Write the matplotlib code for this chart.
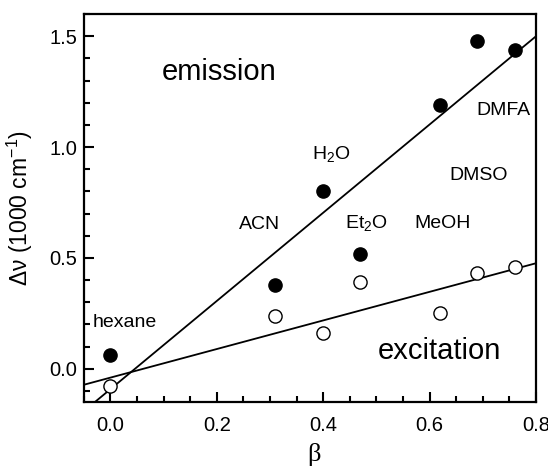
import matplotlib
matplotlib.use("Agg")
import matplotlib.pyplot as plt
import numpy as np
from matplotlib.ticker import MultipleLocator

plt.rcParams['font.family'] = ['Liberation Sans', 'DejaVu Sans']
plt.rcParams['mathtext.fontset'] = 'custom'
plt.rcParams['mathtext.rm'] = 'Liberation Sans'
plt.rcParams['mathtext.it'] = 'Liberation Sans'

# solvent basicity beta
beta = [0.0, 0.31, 0.40, 0.47, 0.62, 0.69, 0.76]
# Stokes shifts, 1000 cm-1
emission = [0.06, 0.38, 0.80, 0.52, 1.19, 1.48, 1.44]
excitation = [-0.08, 0.24, 0.16, 0.39, 0.25, 0.43, 0.46]

# linear fits: slope, intercept
fit_em = [1.99, -0.092]
fit_ex = [0.645, -0.040]

solvents = ['hexane', 'ACN', 'H$_2$O', 'Et$_2$O', 'MeOH', 'DMSO', 'DMFA']
label_x = [0.026, 0.281, 0.415, 0.482, 0.625, 0.692, 0.739]
label_y = [0.207, 0.649, 0.97, 0.656, 0.656, 0.87, 1.167]

fig = plt.figure(figsize=(5.48, 4.71), dpi=100)
ax = fig.add_axes([0.153, 0.1465, 0.825, 0.8235])

xx = np.array([-0.05, 0.8])
ax.plot(xx, fit_em[0] * xx + fit_em[1], color='black', lw=1.3)
ax.plot(xx, fit_ex[0] * xx + fit_ex[1], color='black', lw=1.3)

ax.plot(beta, emission, 'o', color='black', ms=9.5)
ax.plot(beta, excitation, 'o', mfc='white', mec='black', mew=1.0, ms=9.5)

for s, x, y in zip(solvents, label_x, label_y):
    ax.text(x, y, s, fontsize=14, ha='center', va='center')

ax.text(0.204, 1.338, 'emission', fontsize=21, ha='center', va='center')
ax.text(0.619, 0.078, 'excitation', fontsize=21, ha='center', va='center')

ax.set_xlim(-0.05, 0.8)
ax.set_ylim(-0.15, 1.6)
ax.xaxis.set_major_locator(MultipleLocator(0.2))
ax.xaxis.set_minor_locator(MultipleLocator(0.05))
ax.yaxis.set_major_locator(MultipleLocator(0.5))
ax.yaxis.set_minor_locator(MultipleLocator(0.1))
ax.tick_params(which='both', direction='in', top=False, right=False, width=1.5, labelsize=14.5)
ax.tick_params(which='major', length=7)
ax.tick_params(which='minor', length=4)
ax.tick_params(axis='x', which='major', pad=10)
ax.tick_params(axis='y', which='major', pad=5)
for sp in ax.spines.values():
    sp.set_linewidth(1.6)

ax.set_xlabel('β', fontsize=19, family=['Liberation Serif', 'DejaVu Serif'])
ax.set_ylabel('Δν (1000 cm$^{-1}$)', fontsize=16.5)
ax.xaxis.set_label_coords(0.51, -0.105)
ax.yaxis.set_label_coords(-0.108, 0.5)

fig.savefig('out.png', dpi=100)
